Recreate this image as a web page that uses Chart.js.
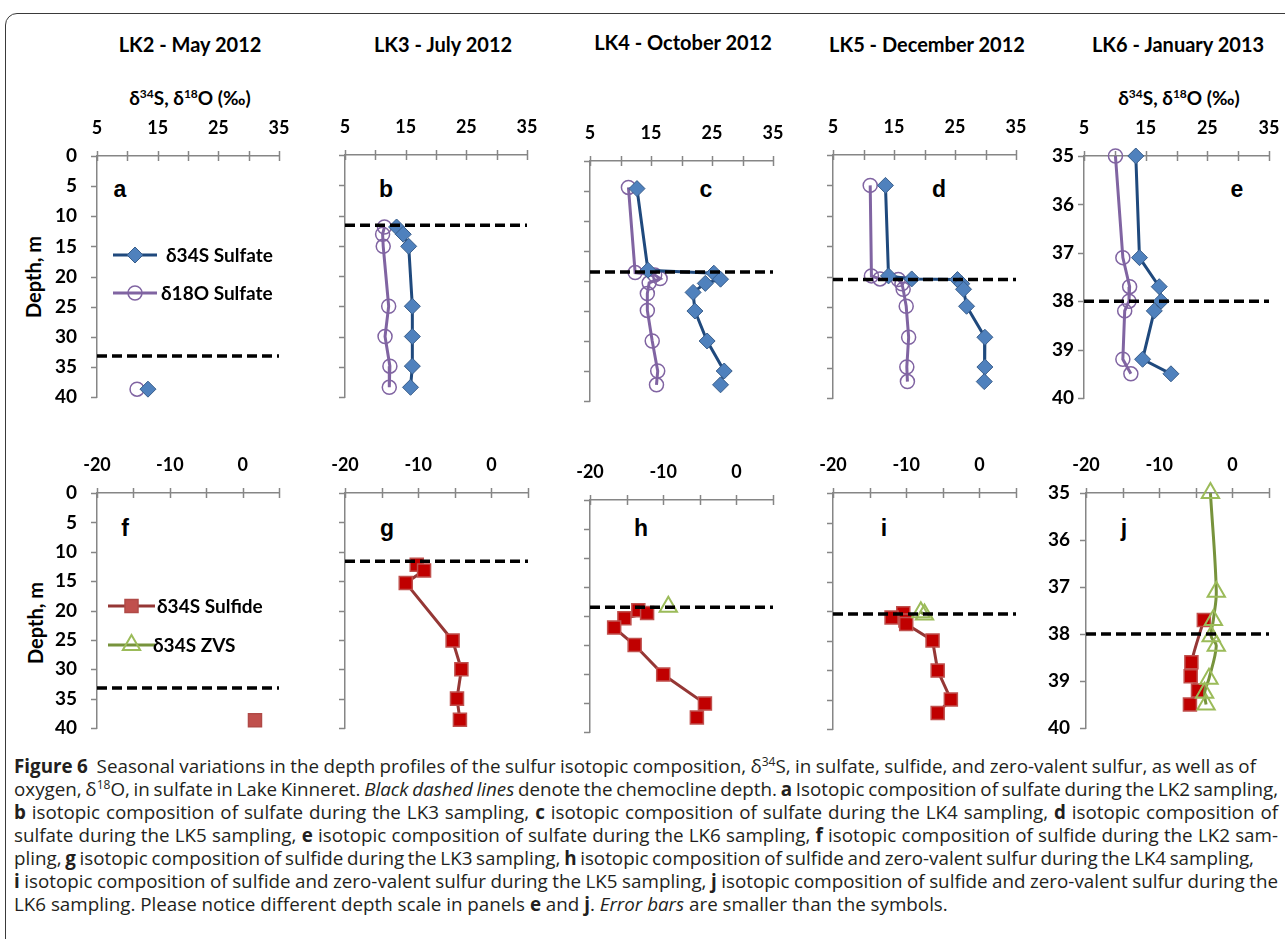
<!DOCTYPE html>
<html lang="en">
<head>
<meta charset="utf-8">
<title>Sulfur and oxygen isotope depth profiles, Lake Kinneret</title>
<script src="https://cdn.jsdelivr.net/npm/chart.js@4.4.1/dist/chart.umd.min.js"></script>
<style>
  html, body { margin:0; padding:0; background:#fff; }
  body { position:relative; width:1285px; height:939px; overflow:hidden; }
  #frame { position:absolute; left:5px; top:13px; width:1320px; height:1000px; border:1.5px solid #3a3a3a; border-radius:12px; box-sizing:border-box; }
  .lbl { position:absolute; font-family:Lato, "Open Sans", sans-serif; font-weight:700; color:#000; white-space:nowrap; transform:translate(-50%,-50%); line-height:1.2; }
  .col { font-size:20px; }
  .ax { font-size:19px; }
  .ax sup { font-size:12px; vertical-align:7px; line-height:0; }
  .depth { font-size:20px; transform:translate(-50%,-50%) rotate(-90deg); }
  .pl { position:absolute; font-family:"Liberation Sans", Arial, sans-serif; font-weight:700; font-size:23px; line-height:23px; transform:translateX(-50%); color:#000; }
  canvas { position:absolute; }
  #caption { position:absolute; left:14px; top:755px; width:1264px; font-family:"Open Sans", sans-serif; font-size:18.8px; line-height:23px; color:#231f20; }
  #caption .ln { white-space:nowrap; text-align:justify; text-align-last:justify; }
  #caption .ln.last { text-align:left; text-align-last:left; }
  #caption sup { font-size:12px; vertical-align:7px; line-height:0; }
</style>
</head>
<body>
<div id="frame"></div>

<div class="lbl col" style="left:190px;top:44px">LK2 - May 2012</div>
<div class="lbl col" style="left:443px;top:44px">LK3 - July 2012</div>
<div class="lbl col" style="left:683px;top:42px">LK4 - October 2012</div>
<div class="lbl col" style="left:927px;top:44px">LK5 - December 2012</div>
<div class="lbl col" style="left:1178px;top:44px">LK6 - January 2013</div>

<div class="lbl ax" style="left:190px;top:98px">δ<sup>34</sup>S, δ<sup>18</sup>O (‰)</div>
<div class="lbl ax" style="left:1179px;top:98px">δ<sup>34</sup>S, δ<sup>18</sup>O (‰)</div>

<div class="lbl depth" style="left:33px;top:277px">Depth, m</div>
<div class="lbl depth" style="left:35px;top:623px">Depth, m</div>

<div class="pl" style="left:120px;top:178px">a</div>
<div class="pl" style="left:386px;top:178px">b</div>
<div class="pl" style="left:706px;top:178px">c</div>
<div class="pl" style="left:939px;top:178px">d</div>
<div class="pl" style="left:1237px;top:178px">e</div>
<div class="pl" style="left:125px;top:517px">f</div>
<div class="pl" style="left:387px;top:517px">g</div>
<div class="pl" style="left:641px;top:517px">h</div>
<div class="pl" style="left:884px;top:517px">i</div>
<div class="pl" style="left:1124px;top:517px">j</div>

<div id="caption">
  <div class="ln" style="width:1242px"><b>Figure 6</b>&nbsp; Seasonal variations in the depth profiles of the sulfur isotopic composition, δ<sup>34</sup>S, in sulfate, sulfide, and zero-valent sulfur, as well as of</div>
  <div class="ln">oxygen, δ<sup>18</sup>O, in sulfate in Lake Kinneret. <i>Black dashed lines</i> denote the chemocline depth. <b>a</b> Isotopic composition of sulfate during the LK2 sampling,</div>
  <div class="ln"><b>b</b> isotopic composition of sulfate during the LK3 sampling, <b>c</b> isotopic composition of sulfate during the LK4 sampling, <b>d</b> isotopic composition of</div>
  <div class="ln">sulfate during the LK5 sampling, <b>e</b> isotopic composition of sulfate during the LK6 sampling, <b>f</b> isotopic composition of sulfide during the LK2 sam-</div>
  <div class="ln" style="width:1240px">pling, <b>g</b> isotopic composition of sulfide during the LK3 sampling, <b>h</b> isotopic composition of sulfide and zero-valent sulfur during the LK4 sampling,</div>
  <div class="ln"><b>i</b> isotopic composition of sulfide and zero-valent sulfur during the LK5 sampling, <b>j</b> isotopic composition of sulfide and zero-valent sulfur during the</div>
  <div class="ln last">LK6 sampling. Please notice different depth scale in panels <b>e</b> and <b>j</b>. <i>Error bars</i> are smaller than the symbols.</div>
</div>

<script>
// ---- Axis tick labels ----
const sulfateTickLabels = [5, 15, 25, 35];      // δ34S / δ18O of sulfate, ‰
const sulfideTickLabels = [-20, -10, 0];        // δ34S of sulfide and ZVS, ‰

// ---- Chemocline depths, m ----
const chemoclineLK2 = 33.2;
const chemoclineLK3 = 11.6;
const chemoclineLK4 = 18.5;
const chemoclineLK5 = 20.5;
const chemoclineLK6 = 38.0;

// ---- LK2, May 2012 ----
const lk2SulfateDepth = [38.7];
const lk2SulfateD34S = [13.4];
const lk2SulfateD18O = [11.6];
const lk2SulfideDepth = [38.7];
const lk2SulfideD34S = [1.7];

// ---- LK3, July 2012 ----
const lk3SulfateDepth = [11.9, 13.1, 15.1, 25.0, 30.0, 34.9, 38.4];
const lk3SulfateD34S = [13.5, 14.6, 15.5, 16.1, 16.1, 16.1, 15.8];
const lk3SulfateD18O = [11.5, 11.2, 11.3, 12.2, 11.6, 12.4, 12.3];
const lk3SulfideDepth = [12.2, 13.2, 15.3, 25.1, 30.0, 35.0, 38.6];
const lk3SulfideD34S = [-10.2, -9.2, -11.7, -5.3, -4.1, -4.7, -4.3];

// ---- LK4, October 2012 ----
const lk4SulfateSDepth = [4.6, 18.2, 18.7, 19.7, 20.4, 21.9, 25.0, 30.0, 35.0, 37.3];
const lk4SulfateD34S = [12.7, 14.5, 25.3, 26.4, 23.9, 21.9, 22.2, 24.2, 27.0, 26.4];
const lk4SulfateODepth = [4.4, 18.6, 19.0, 19.6, 20.3, 22.1, 24.9, 30.0, 35.0, 37.3];
const lk4SulfateD18O = [11.3, 12.4, 15.6, 16.5, 14.7, 14.4, 14.4, 15.2, 16.1, 15.9];
const lk4SulfideDepth = [19.0, 19.5, 20.4, 22.0, 25.0, 30.1, 35.1, 37.5];
const lk4SulfideD34S = [-13.4, -12.2, -15.3, -16.7, -13.9, -10.0, -4.3, -5.4];
const lk4ZvsDepth = [18.4];
const lk4ZvsD34S = [-9.3];

// ---- LK5, December 2012 ----
const lk5SulfateDepth = [5.0, 19.9, 20.4, 20.5, 21.2, 22.1, 24.9, 30.0, 34.9, 37.3];
const lk5SulfateD34S = [13.6, 14.1, 17.9, 25.4, 26.1, 26.4, 26.9, 29.9, 29.9, 29.8];
const lk5SulfateD18O = [11.1, 11.3, 12.7, 15.7, 16.3, 16.5, 17.0, 17.4, 17.1, 17.2];
const lk5SulfideDepth = [20.4, 21.1, 21.6, 22.2, 25.0, 30.1, 35.0, 37.3];
const lk5SulfideD34S = [-10.4, -12.0, -10.1, -10.0, -6.4, -5.7, -3.9, -5.7];
const lk5ZvsDepth = [20.2, 20.6];
const lk5ZvsD34S = [-8.0, -7.5];

// ---- LK6, January 2013 ----
const lk6SulfateDepth = [35.0, 37.1, 37.7, 38.0, 38.2, 39.2, 39.5];
const lk6SulfateD34S = [13.4, 14.0, 17.2, 17.5, 16.4, 14.5, 19.1];
const lk6SulfateD18O = [10.1, 11.3, 12.4, 12.3, 11.6, 11.3, 12.6];
const lk6SulfideDepth = [37.7, 38.6, 38.9, 39.2, 39.5];
const lk6SulfideD34S = [-3.9, -5.6, -5.7, -4.7, -5.8];
const lk6ZvsDepth = [35.0, 37.1, 37.7, 38.05, 38.25, 38.95, 39.25, 39.5];
const lk6ZvsD34S = [-3.0, -2.2, -2.6, -2.9, -2.2, -3.2, -3.8, -3.6];

// ---- Styling ----
const AXIS_GREY = '#868686';
const LABEL_FONT = 'Lato, "Open Sans", sans-serif';
// margins around each plot area; right/bottom are wide enough that the
// scales' own label padding never shrinks the plot area
const LEFT_M = 70, TOP_M = 45, RIGHT_M = 32, BOTTOM_M = 36;

const sulfateSStyle = { pointStyle: 'rectRot', pointRadius: 8, pointBackgroundColor: '#4F81BD', pointBorderColor: '#385D8A', pointBorderWidth: 1, borderColor: '#1F497D', borderWidth: 3 };
const sulfateOStyle = { pointStyle: 'circle', pointRadius: 7, pointBackgroundColor: 'rgba(255,255,255,0)', pointBorderColor: '#8064A2', pointBorderWidth: 1.5, borderColor: '#8064A2', borderWidth: 3 };
const sulfideStyle = { pointStyle: 'rect', pointRadius: 9.2, pointBackgroundColor: '#C00000', pointBorderColor: '#C0504D', pointBorderWidth: 1.5, borderColor: '#953735', borderWidth: 3 };
const sulfideLightStyle = Object.assign({}, sulfideStyle, { pointBackgroundColor: '#C0504D', pointBorderColor: '#B04A47' });
const zvsStyle = { pointStyle: 'triangle', pointRadius: 10, pointBackgroundColor: 'rgba(255,255,255,0)', pointBorderColor: '#9BBB59', pointBorderWidth: 2, borderColor: '#77933C', borderWidth: 3 };

function series(xs, ys, style, extra) {
  return Object.assign({
    data: xs.map((v, i) => ({ x: v, y: ys[i] })),
    showLine: true, clip: false, tension: 0
  }, style, extra || {});
}

function chemocline(depth, xmin, xmax) {
  return {
    data: [{ x: xmin, y: depth }, { x: xmax, y: depth }],
    showLine: true, borderColor: '#000', borderWidth: 3.5, borderDash: [10, 5],
    pointRadius: 0, clip: false, order: -1
  };
}

// Excel-style tick marks: crossing on the value axis, outward on the depth axis
const tickMarks = {
  id: 'tickMarks',
  beforeDatasetsDraw(chart) {
    const { ctx, scales: { x, y } } = chart;
    ctx.save();
    ctx.strokeStyle = AXIS_GREY;
    ctx.lineWidth = 1.5;
    ctx.beginPath();
    x.ticks.forEach(t => {
      const px = Math.round(x.getPixelForValue(t.value)) + 0.5;
      ctx.moveTo(px, x.bottom - 5);
      ctx.lineTo(px, x.bottom + 5);
    });
    y.ticks.forEach(t => {
      const py = Math.round(y.getPixelForValue(t.value)) + 0.5;
      ctx.moveTo(y.right - 6, py);
      ctx.lineTo(y.right, py);
    });
    ctx.stroke();
    ctx.restore();
  }
};

function drawMarker(ctx, st, x, y) {
  const r = st.pointRadius;
  ctx.save();
  ctx.fillStyle = st.pointBackgroundColor;
  ctx.strokeStyle = st.pointBorderColor;
  ctx.lineWidth = st.pointBorderWidth;
  ctx.beginPath();
  if (st.pointStyle === 'rectRot') {
    ctx.moveTo(x - r, y); ctx.lineTo(x, y - r); ctx.lineTo(x + r, y); ctx.lineTo(x, y + r); ctx.closePath();
  } else if (st.pointStyle === 'circle') {
    ctx.arc(x, y, r, 0, Math.PI * 2);
  } else if (st.pointStyle === 'rect') {
    const s = r * Math.SQRT1_2; ctx.rect(x - s, y - s, 2 * s, 2 * s);
  } else if (st.pointStyle === 'triangle') {
    const a = Math.sin(2 * Math.PI / 3) * r, b = -Math.cos(2 * Math.PI / 3) * r;
    ctx.moveTo(x, y - r); ctx.lineTo(x + a, y + b); ctx.lineTo(x - a, y + b); ctx.closePath();
  }
  ctx.fill(); ctx.stroke();
  ctx.restore();
}

// Legend drawn inside the plot area
const insetLegend = {
  id: 'insetLegend',
  afterDatasetsDraw(chart, args, opts) {
    if (!opts || !opts.entries) return;
    const { ctx, chartArea } = chart;
    opts.entries.forEach(e => {
      const ds = chart.data.datasets[e.dataset];
      const y = chartArea.top + e.dy;
      const x0 = chartArea.left + opts.lineFrom, x1 = chartArea.left + opts.lineTo;
      ctx.save();
      ctx.strokeStyle = ds.borderColor; ctx.lineWidth = ds.borderWidth;
      ctx.beginPath(); ctx.moveTo(x0, y); ctx.lineTo(x1, y); ctx.stroke();
      ctx.restore();
      drawMarker(ctx, ds, (x0 + x1) / 2, y);
      ctx.save();
      ctx.fillStyle = '#000';
      ctx.font = 'bold 19px ' + LABEL_FONT;
      ctx.textBaseline = 'middle';
      ctx.textAlign = 'left';
      ctx.fillText(e.text, chartArea.left + e.tx, y + 1);
      ctx.restore();
    });
  }
};

function xScale(min, max, labels) {
  return {
    type: 'linear', position: 'top', min, max,
    ticks: {
      stepSize: 5, autoSkip: false, maxRotation: 0, padding: 17, color: '#000',
      font: { family: LABEL_FONT, size: 18, weight: 'bold' },
      callback: v => labels.includes(v) ? String(v) : ''
    },
    grid: { display: false, drawTicks: false },
    border: { display: true, color: AXIS_GREY, width: 1.5 },
    afterFit(s) { s.height = TOP_M; }
  };
}

function yScale(min, max, step, showLabels, pad) {
  return {
    type: 'linear', reverse: true, min, max,
    ticks: {
      stepSize: step, autoSkip: false, padding: pad, color: '#000',
      font: { family: LABEL_FONT, size: 19, weight: 'bold' },
      callback: v => showLabels ? String(v) : ''
    },
    grid: { display: false, drawTicks: false },
    border: { display: true, color: AXIS_GREY, width: 1.5 },
    afterFit(s) { s.width = LEFT_M; }
  };
}

function panel(box, x, y, datasets, legend) {
  const [l, r, t, b] = box;
  const c = document.createElement('canvas');
  c.width = r - l + LEFT_M + RIGHT_M;
  c.height = b - t + TOP_M + BOTTOM_M;
  c.style.left = (l - LEFT_M) + 'px';
  c.style.top = (t - TOP_M) + 'px';
  document.body.appendChild(c);
  new Chart(c, {
    type: 'scatter',
    data: { datasets },
    options: {
      responsive: false, animation: false, events: [], devicePixelRatio: 1,
      layout: { padding: { left: 0, top: 0, right: RIGHT_M, bottom: BOTTOM_M } },
      plugins: { legend: { display: false }, tooltip: { enabled: false }, insetLegend: legend || {} },
      scales: { x, y }
    },
    plugins: [tickMarks, insetLegend]
  });
}

// ---- Sulfate panels (a–e) ----
panel([97, 279, 156, 397], xScale(5, 35, sulfateTickLabels), yScale(0, 40, 5, true, 20), [
  chemocline(chemoclineLK2, 5, 35),
  series(lk2SulfateD34S, lk2SulfateDepth, sulfateSStyle, { order: 0 }),
  series(lk2SulfateD18O, lk2SulfateDepth, sulfateOStyle, { order: 1 })
], {
  lineFrom: 16, lineTo: 60,
  entries: [
    { dataset: 1, text: 'δ34S Sulfate', dy: 99, tx: 69 },
    { dataset: 2, text: 'δ18O Sulfate', dy: 137, tx: 64 }
  ]
});

panel([345, 527, 155, 397], xScale(5, 35, sulfateTickLabels), yScale(0, 40, 5, false, 20), [
  chemocline(chemoclineLK3, 5, 35),
  series(lk3SulfateD34S, lk3SulfateDepth, sulfateSStyle, { order: 0 }),
  series(lk3SulfateD18O, lk3SulfateDepth, sulfateOStyle, { order: 1 })
]);

panel([590, 773, 161, 401], xScale(5, 35, sulfateTickLabels), yScale(0, 40, 5, false, 20), [
  chemocline(chemoclineLK4, 5, 35),
  series(lk4SulfateD34S, lk4SulfateSDepth, sulfateSStyle, { order: 0 }),
  series(lk4SulfateD18O, lk4SulfateODepth, sulfateOStyle, { order: 1 })
]);

panel([833, 1016, 155, 398], xScale(5, 35, sulfateTickLabels), yScale(0, 40, 5, false, 20), [
  chemocline(chemoclineLK5, 5, 35),
  series(lk5SulfateD34S, lk5SulfateDepth, sulfateSStyle, { order: 0 }),
  series(lk5SulfateD18O, lk5SulfateDepth, sulfateOStyle, { order: 1 })
]);

panel([1084, 1269, 156, 398], xScale(5, 35, sulfateTickLabels), yScale(35, 40, 1, true, 10), [
  chemocline(chemoclineLK6, 5, 35),
  series(lk6SulfateD34S, lk6SulfateDepth, sulfateSStyle, { order: 0 }),
  series(lk6SulfateD18O, lk6SulfateDepth, sulfateOStyle, { order: 1 })
]);

// ---- Sulfide / zero-valent sulfur panels (f–j) ----
panel([97, 279, 493, 728], xScale(-20, 5, sulfideTickLabels), yScale(0, 40, 5, true, 20), [
  chemocline(chemoclineLK2, -20, 5),
  series(lk2SulfideD34S, lk2SulfideDepth, sulfideLightStyle, { order: 1 }),
  series([], [], zvsStyle, { order: 0 })
], {
  lineFrom: 11, lineTo: 58,
  entries: [
    { dataset: 1, text: 'δ34S Sulfide', dy: 113, tx: 60 },
    { dataset: 2, text: 'δ34S ZVS', dy: 152, tx: 56 }
  ]
});

panel([345, 528, 493, 728], xScale(-20, 5, sulfideTickLabels), yScale(0, 40, 5, false, 20), [
  chemocline(chemoclineLK3, -20, 5),
  series(lk3SulfideD34S, lk3SulfideDepth, sulfideStyle, { order: 1 })
]);

panel([590, 773, 500, 732], xScale(-20, 5, sulfideTickLabels), yScale(0, 40, 5, false, 20), [
  chemocline(chemoclineLK4, -20, 5),
  series(lk4SulfideD34S, lk4SulfideDepth, sulfideStyle, { order: 1 }),
  series(lk4ZvsD34S, lk4ZvsDepth, zvsStyle, { order: 0 })
]);

panel([833, 1016, 493, 729], xScale(-20, 5, sulfideTickLabels), yScale(0, 40, 5, false, 20), [
  chemocline(chemoclineLK5, -20, 5),
  series(lk5SulfideD34S, lk5SulfideDepth, sulfideStyle, { order: 1 }),
  series(lk5ZvsD34S, lk5ZvsDepth, zvsStyle, { order: 0 })
]);

panel([1086, 1269, 493, 728], xScale(-20, 5, sulfideTickLabels), yScale(35, 40, 1, true, 16), [
  chemocline(chemoclineLK6, -20, 5),
  series(lk6SulfideD34S, lk6SulfideDepth, sulfideStyle, { order: 1, tension: 0.35 }),
  series(lk6ZvsD34S, lk6ZvsDepth, zvsStyle, { order: 0, tension: 0.35 })
]);

// ---- Caption: squeeze word spacing on lines that are wider than the column ----
document.querySelectorAll('#caption .ln').forEach(el => {
  const target = el.getBoundingClientRect().width;
  const saved = el.style.textAlignLast;
  el.style.textAlignLast = 'left';
  el.style.textAlign = 'left';
  const range = document.createRange();
  range.selectNodeContents(el);
  const natural = range.getBoundingClientRect().width;
  el.style.textAlignLast = saved;
  el.style.textAlign = '';
  if (natural > target) {
    const spaces = (el.textContent.trim().match(/\s+/g) || []).length;
    if (spaces) el.style.wordSpacing = ((target - natural) / spaces - 0.05) + 'px';
  }
});
</script>
</body>
</html>
